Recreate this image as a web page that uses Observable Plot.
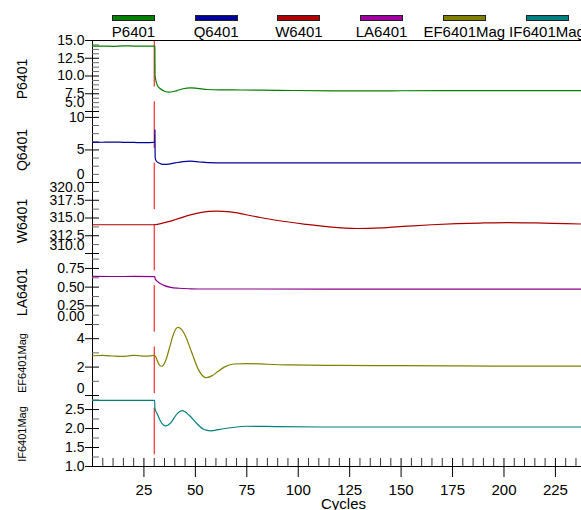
<!DOCTYPE html>
<html><head><meta charset="utf-8">
<script src="https://cdn.jsdelivr.net/npm/d3@7"></script>
<script src="https://cdn.jsdelivr.net/npm/@observablehq/plot@0.6"></script>
<style>
html,body{margin:0;padding:0;background:#fff;overflow:hidden;width:581px;height:510px;}
#root{position:relative;width:620px;font-family:"Liberation Sans",Arial,sans-serif;}
#legend{position:relative;height:40px;}
.sw{position:absolute;top:15px;width:43px;height:6px;box-sizing:border-box;border:1px solid #222;}
.lb{position:absolute;top:24px;width:120px;margin-left:-60px;text-align:center;font-size:15px;line-height:15px;color:#000;white-space:nowrap;}
svg{display:block;overflow:visible;}
</style></head><body><div id="root"><div id="legend"></div></div>
<script>
// ---- data ----
const seriesNames = ["P6401", "Q6401", "W6401", "LA6401", "EF6401Mag", "IF6401Mag"];
const seriesColors = ["#008000", "#0000a0", "#b00000", "#a000a0", "#808000", "#008080"];
const eventCycle = 30;
const xDomain = [0, 244];
const xMajorTicks = [25, 50, 75, 100, 125, 150, 175, 200, 225];
const xLabel = "Cycles";

const pCycles = [0,5,10,15,20,25,29.8,30.3,30.4,30.8,31.5,33,35,37,39,41,44,47.5,51,56,62,72,90,120,150,180,210,244];
const pValues = [14.2,14.22,14.18,14.25,14.22,14.2,14.2,14.18,10.1,9.4,8.7,8.2,7.85,7.72,7.78,7.95,8.2,8.33,8.25,8.1,8.05,8.03,7.98,7.9,7.92,7.95,7.93,7.93];

const qCycles = [0,5,10,15,20,25,29.9,30.3,30.35,30.45,31,32.5,34.7,37,40,44,47.7,52,56,65,80,100,140,180,244];
const qValues = [6.15,6.18,6.2,6.17,6.15,6.12,6.15,6.15,8.1,3.8,3.3,2.95,2.78,2.82,3.0,3.2,3.27,3.15,3.05,3.0,3.02,3.0,3.0,3.0,3.0];

const wCycles = [0,30,35,40,47.6,53,60,67,80,90,102.8,115,128.7,140,153,165,177,190,202,215,230,244];
const wValues = [314.05,314.05,314.35,314.75,315.45,315.8,315.96,315.85,315.15,314.65,314.15,313.75,313.52,313.6,313.85,314.05,314.2,314.3,314.35,314.3,314.2,314.12];

const laCycles = [0,10,20,30.3,30.4,31,32,33,35,38,42,47.7,55,80,150,244];
const laValues = [0.643,0.642,0.643,0.64,0.615,0.59,0.565,0.548,0.52,0.497,0.485,0.478,0.475,0.475,0.474,0.474];

const efCycles = [0,5,10,13.6,17,20,23,25,28,30,30.8,31.8,32.7,33.6,34.6,35.8,37.5,39.5,41.5,43.3,45,48.2,51.5,55.2,58,61,64,68.7,75,85,96,120,150,180,210,244];
const efValues = [2.8,2.82,2.78,2.75,2.78,2.83,2.8,2.77,2.79,2.83,2.7,2.35,2.12,2.06,2.17,2.55,3.4,4.39,4.8,4.65,4.25,3.05,1.82,1.25,1.38,1.7,2.0,2.22,2.25,2.2,2.15,2.12,2.1,2.08,2.07,2.06];

const ifCycles = [0,10,20,30.2,30.35,31.5,33,35.5,38,41,43.6,47,50.9,54,57.4,62,67,75,90,116,150,200,244];
const ifValues = [2.74,2.74,2.74,2.74,2.53,2.38,2.2,2.07,2.15,2.38,2.47,2.35,2.12,1.98,1.94,1.98,2.02,2.06,2.05,2.04,2.04,2.04,2.04];

const pTicks = [5, 7.5, 10, 12.5, 15];
const qTicks = [0, 5, 10];
const wTicks = [310, 312.5, 315, 317.5, 320];
const laTicks = [0, 0.25, 0.5, 0.75];
const efTicks = [0, 2, 4];
const ifTicks = [1, 1.5, 2, 2.5];

// ---- layout / styling ----
const panels = [
  {name: seriesNames[0], x: pCycles, y: pValues, color: "#008000", domain: [5, 15], ticks: pTicks, minor: 0.625, fmt: ".1f", edges: [[5, -9]], title: 14},
  {name: seriesNames[1], x: qCycles, y: qValues, color: "#000099", domain: [0, 10.9], ticks: qTicks, minor: 1.25, fmt: "d", edges: [[0, -8]], title: 14},
  {name: seriesNames[2], x: wCycles, y: wValues, color: "#aa0000", domain: [310, 320], ticks: wTicks, minor: 1.25, fmt: ".1f", edges: [[310, -8], [320, 5]], title: 14},
  {name: seriesNames[3], x: laCycles, y: laValues, color: "#8b008b", domain: [0, 0.95], ticks: laTicks, minor: 0.125, fmt: ".2f", edges: [[0, -8]], title: 14},
  {name: seriesNames[4], x: efCycles, y: efValues, color: "#808000", domain: [0, 5], ticks: efTicks, minor: 1, fmt: "d", edges: [[0, -7]], title: 11},
  {name: seriesNames[5], x: ifCycles, y: ifValues, color: "#008080", domain: [1, 2.87], ticks: ifTicks, minor: 0.25, fmt: ".1f", edges: [], title: 11}
];

const PH = 71;
const root = document.getElementById("root");
const legend = document.getElementById("legend");
seriesNames.forEach((n, i) => {
  const c = 133.5 + 82.7 * i;
  const sw = document.createElement("div");
  sw.className = "sw"; sw.style.left = (c - 21.5) + "px"; sw.style.background = seriesColors[i];
  legend.appendChild(sw);
  const lb = document.createElement("div");
  lb.className = "lb"; lb.style.left = c + "px"; lb.textContent = n;
  legend.appendChild(lb);
});

const xMinorTicks = d3.range(5, xDomain[1], 5).filter(v => v % 25 !== 0);

panels.forEach((p, i) => {
  const last = i === panels.length - 1;
  const near = (a, b) => Math.abs(a - b) < 1e-9;
  const minors = d3.range(p.domain[0], p.domain[1] + 1e-9, p.minor).filter(v => !p.ticks.some(m => near(m, v)));
  const interior = p.ticks.filter(v => !p.edges.some(e => near(e[0], v)));
  const f = d3.format(p.fmt);
  const marks = [
    Plot.ruleX([eventCycle], {stroke: "#ff0000", strokeWidth: 1, strokeDasharray: "46.5 14.8", strokeDashoffset: PH * i}),
    Plot.ruleX([xDomain[0]], {stroke: "#000", strokeWidth: 1}),
    Plot.axisY({ticks: minors, tickSize: 7, dx: 7, tickFormat: () => "", label: null, stroke: "#666"}),
    Plot.axisY({ticks: p.ticks, tickSize: 14, dx: 7, tickFormat: () => "", label: null, stroke: "#000"}),
    Plot.axisY({ticks: interior, tickSize: 0, tickPadding: 8, tickFormat: f, label: null, fontSize: 14, fill: "#000"}),
    ...p.edges.map(e => Plot.axisY({ticks: [e[0]], tickSize: 0, tickPadding: 8, dy: e[1], tickFormat: f, label: null, fontSize: 14, fill: "#000"})),
    Plot.text([p.name], {frameAnchor: "left", textAnchor: "middle", dx: -70, dy: 3, rotate: -90, fontSize: p.title, fill: "#000"}),
    Plot.line(p.x, {x: p.x, y: p.y, stroke: p.color, strokeWidth: 1.2, curve: "monotone-x"})
  ];
  if (i === 0) marks.push(Plot.ruleY([p.domain[1]], {stroke: "#000"}));
  if (last) {
    marks.push(
      Plot.ruleY([p.domain[0]], {stroke: "#000"}),
      Plot.axisX({ticks: xMinorTicks, tickSize: 8, dy: -8, tickFormat: () => "", label: null, stroke: "#333"}),
      Plot.axisX({ticks: xMajorTicks, tickSize: 19, dy: -8, tickFormat: () => "", label: null, stroke: "#000"}),
      Plot.axisX({ticks: xMajorTicks, tickSize: 0, tickPadding: 18, tickFormat: d3.format("d"), label: null, fontSize: 15, fill: "#000"}),
      Plot.text([xLabel], {frameAnchor: "bottom", dy: 38, lineAnchor: "middle", fontSize: 15, fill: "#000"})
    );
  }
  const svg = Plot.plot({
    width: 620,
    height: last ? PH + 44 : PH,
    marginLeft: 92, marginRight: 26, marginTop: 0, marginBottom: last ? 44 : 0,
    style: {fontFamily: "Liberation Sans, Arial, sans-serif", background: "transparent", overflow: "visible"},
    x: {domain: xDomain, ...(last ? {} : {axis: null})},
    y: {domain: p.domain},
    marks
  });
  root.appendChild(svg);
});
</script></body></html>
